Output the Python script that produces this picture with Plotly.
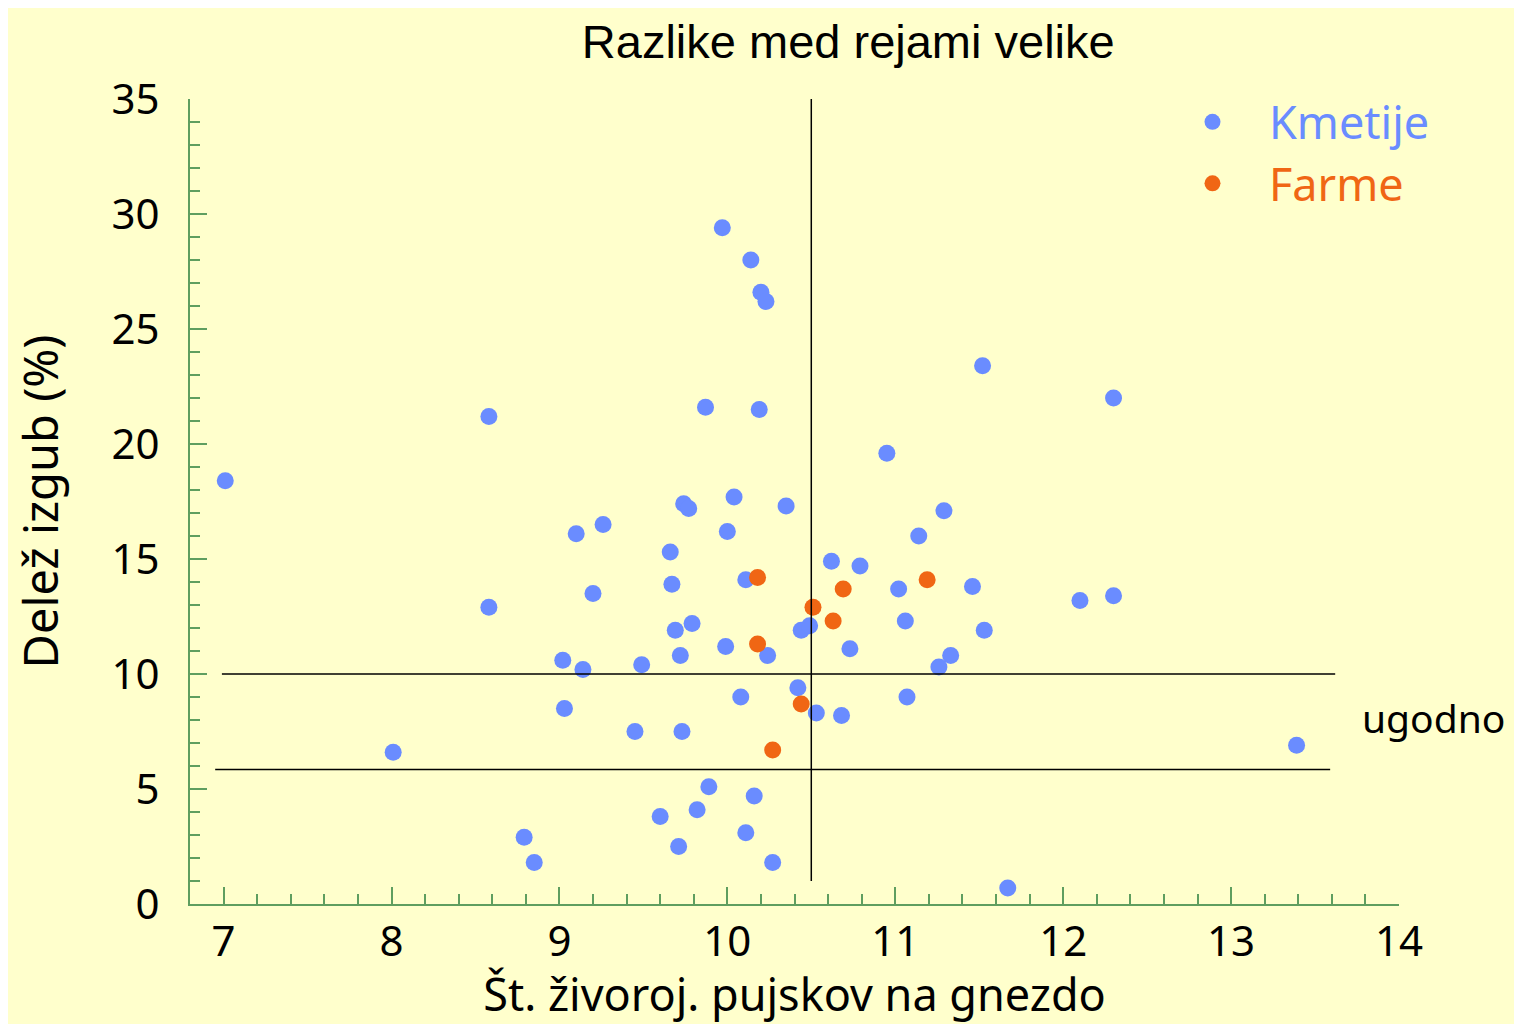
import plotly.graph_objects as go

# Kmetije (blue)
kmet_x = [7.01, 8.58, 8.58, 8.01, 8.79, 8.85, 9.10, 9.26, 9.20, 9.02, 9.14, 9.03, 9.49, 9.45,
          9.66, 9.67, 9.69, 9.79, 9.72, 9.73, 9.74, 9.77, 9.87, 9.97, 10.00, 10.04, 9.99, 10.08,
          10.11, 10.14, 10.20, 10.23, 10.19, 10.24, 10.35, 9.89, 9.82, 9.60, 9.71, 10.16, 10.11,
          10.27, 10.42, 10.44, 10.49, 10.53, 10.68, 10.62, 10.79, 10.73, 10.95, 11.02, 11.06,
          11.07, 11.14, 11.29, 11.26, 11.33, 11.46, 11.53, 11.52, 11.67, 12.10, 12.30, 12.30, 13.39]
kmet_y = [18.4, 21.2, 12.9, 6.6, 2.9, 1.8, 16.1, 16.5, 13.5, 10.6, 10.2, 8.5, 10.4, 7.5,
          15.3, 13.9, 11.9, 12.2, 10.8, 7.5, 17.4, 17.2, 21.6, 29.4, 16.2, 17.7, 11.2, 9.0,
          14.1, 28.0, 26.6, 26.2, 21.5, 10.8, 17.3, 5.1, 4.1, 3.8, 2.5, 4.7, 3.1,
          1.8, 9.4, 11.9, 12.1, 8.3, 8.2, 14.9, 14.7, 11.1, 19.6, 13.7, 12.3,
          9.0, 16.0, 17.1, 10.3, 10.8, 13.8, 11.9, 23.4, 0.7, 13.2, 13.4, 22.0, 6.9]

# Farme (orange)
farm_x = [10.18, 10.69, 11.19, 10.51, 10.63, 10.18, 10.44, 10.27]
farm_y = [14.2, 13.7, 14.1, 12.9, 12.3, 11.3, 8.7, 6.7]

x_ticks = [7, 8, 9, 10, 11, 12, 13, 14]
y_ticks = [0, 5, 10, 15, 20, 25, 30, 35]

BLUE = "#6a8cff"
ORANGE = "#f06614"
AXIS = "#5f9e5f"
BG = "#ffffcc"
COMIC = "Noto Sans"

fig = go.Figure()
fig.add_trace(go.Scatter(x=kmet_x, y=kmet_y, mode="markers",
                         name=f"<span style='color:{BLUE}'>Kmetije</span>",
                         marker=dict(color=BLUE, size=17, line=dict(width=0))))
fig.add_trace(go.Scatter(x=farm_x, y=farm_y, mode="markers",
                         name=f"<span style='color:{ORANGE}'>Farme</span>",
                         marker=dict(color=ORANGE, size=17, line=dict(width=0))))

# reference lines
fig.add_shape(type="line", x0=10.5, x1=10.5, y0=1.0, y1=35, xref="x", yref="y",
              line=dict(color="black", width=1.5))
fig.add_shape(type="line", x0=6.99, x1=13.62, y0=10, y1=10, xref="x", yref="y",
              line=dict(color="black", width=1.5))
fig.add_shape(type="line", x0=6.95, x1=13.59, y0=5.85, y1=5.85, xref="x", yref="y",
              line=dict(color="black", width=1.5))

fig.add_annotation(text="ugodno", x=13.77, y=8.1, xref="x", yref="y", xanchor="left",
                   yanchor="middle", showarrow=False,
                   font=dict(family=COMIC, size=39, color="black"))

fig.update_layout(
    width=1514, height=1016,
    paper_bgcolor=BG, plot_bgcolor=BG,
    margin=dict(l=182, r=123, t=91, b=120),
    title=dict(text="Razlike med rejami velike", x=0.555, xanchor="center",
               y=0.967, yanchor="middle",
               font=dict(family="Liberation Sans, Arial", size=47, color="black")),
    showlegend=True,
    legend=dict(x=0.799, y=1.016, xanchor="left", yanchor="top",
                bgcolor="rgba(0,0,0,0)", font=dict(family=COMIC, size=45),
                itemwidth=103, tracegroupgap=0),
    xaxis=dict(range=[6.8, 14.0], tickvals=x_ticks, ticktext=[str(v) for v in x_ticks],
               showgrid=False, zeroline=False, showline=True, linecolor=AXIS, linewidth=2,
               ticks="inside", ticklen=17, tickwidth=2, tickcolor=AXIS,
               minor=dict(dtick=0.2, tick0=7, ticks="inside", ticklen=10, tickwidth=1.5,
                          tickcolor=AXIS, showgrid=False),
               ticklabelstandoff=0,
               tickfont=dict(family=COMIC, size=42, color="black"),
               title=dict(text="Št. živoroj. pujskov na gnezdo", standoff=6,
                          font=dict(family=COMIC, size=45, color="black"))),
    yaxis=dict(range=[0, 35], tickvals=y_ticks, ticktext=[str(v) for v in y_ticks],
               showgrid=False, zeroline=False, showline=True, linecolor=AXIS, linewidth=2,
               ticks="inside", ticklen=17, tickwidth=2, tickcolor=AXIS,
               minor=dict(dtick=1, tick0=0, ticks="inside", ticklen=10, tickwidth=1.5,
                          tickcolor=AXIS, showgrid=False),
               ticklabelstandoff=20,
               tickfont=dict(family=COMIC, size=42, color="black"),
               title=dict(text="Delež izgub (%)", standoff=38,
                          font=dict(family=COMIC, size=47, color="black"))),
)

fig.write_html("out.html")
